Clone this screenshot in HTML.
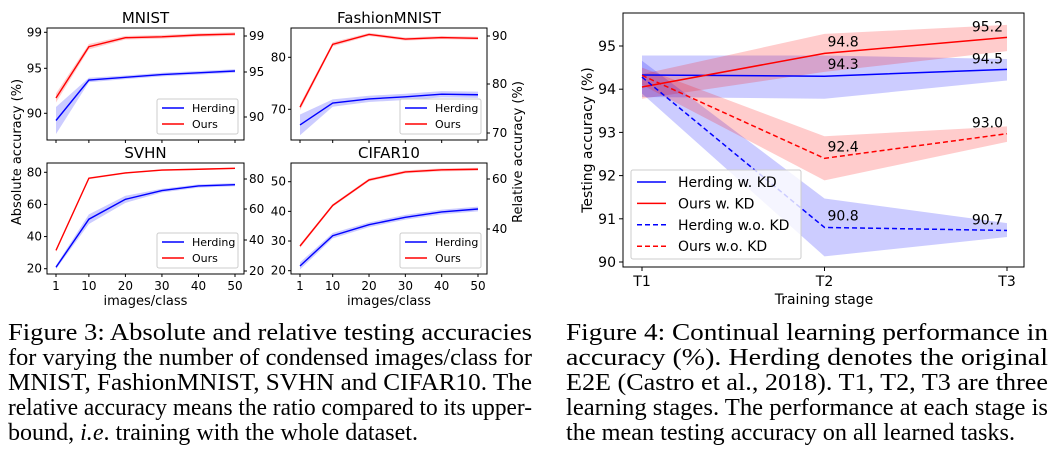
<!DOCTYPE html>
<html><head><meta charset="utf-8">
<style>
html,body{margin:0;padding:0;background:#fff;}
svg{display:block;font-family:"DejaVu Sans","Liberation Sans",sans-serif;}
svg text.cap{font-family:"Liberation Serif",serif;font-size:24px;fill:#000;}
</style></head>
<body>
<svg id="fig" width="1057" height="462" viewBox="0 0 1057 462" xmlns="http://www.w3.org/2000/svg">
<g id="left"></g>
<g id="right"></g>
<g font-family="Liberation Serif, serif">
<text class="cap" font-family="Liberation Serif, serif" x="8" y="340" textLength="524" lengthAdjust="spacingAndGlyphs">Figure 3:  Absolute and relative testing accuracies</text>
<text class="cap" font-family="Liberation Serif, serif" x="8" y="365" textLength="524" lengthAdjust="spacingAndGlyphs">for varying the number of condensed images/class for</text>
<text class="cap" font-family="Liberation Serif, serif" x="8" y="390" textLength="524" lengthAdjust="spacingAndGlyphs">MNIST, FashionMNIST, SVHN and CIFAR10.  The</text>
<text class="cap" font-family="Liberation Serif, serif" x="8" y="415" textLength="524" lengthAdjust="spacingAndGlyphs">relative accuracy means the ratio compared to its upper-</text>
<text class="cap" font-family="Liberation Serif, serif" x="8" y="440" textLength="410" lengthAdjust="spacingAndGlyphs">bound, <tspan font-style="italic">i.e</tspan>. training with the whole dataset.</text>
</g>
<g font-family="Liberation Serif, serif">
<text class="cap" font-family="Liberation Serif, serif" x="566" y="340" textLength="482" lengthAdjust="spacingAndGlyphs">Figure 4:  Continual learning performance in</text>
<text class="cap" font-family="Liberation Serif, serif" x="566" y="365" textLength="482" lengthAdjust="spacingAndGlyphs">accuracy (%).   Herding denotes the original</text>
<text class="cap" font-family="Liberation Serif, serif" x="566" y="390" textLength="482" lengthAdjust="spacingAndGlyphs">E2E (Castro et al., 2018).  T1, T2, T3 are three</text>
<text class="cap" font-family="Liberation Serif, serif" x="566" y="415" textLength="482" lengthAdjust="spacingAndGlyphs">learning stages. The performance at each stage is</text>
<text class="cap" font-family="Liberation Serif, serif" x="566" y="440" textLength="449" lengthAdjust="spacingAndGlyphs">the mean testing accuracy on all learned tasks.</text>
</g>
</svg>
<script>
// ---- Figure 3 data ----
const imgsPerClass = [1, 10, 20, 30, 40, 50];
const xTickLabels = [1, 10, 20, 30, 40, 50];
const mnistHerding = [89.2, 93.7, 94.0, 94.3, 94.5, 94.7];
const mnistHerdingErr = [1.5, 0.25, 0.2, 0.2, 0.2, 0.2];
const mnistOurs = [91.7, 97.4, 98.4, 98.5, 98.7, 98.8];
const mnistOursErr = [0.5, 0.3, 0.2, 0.2, 0.2, 0.2];
const fashionHerding = [67.0, 71.2, 72.0, 72.4, 72.9, 72.8];
const fashionHerdingErr = [2.0, 0.7, 0.6, 0.6, 0.6, 0.6];
const fashionOurs = [70.4, 82.5, 84.4, 83.5, 83.8, 83.65];
const fashionOursErr = [0.6, 0.4, 0.3, 0.3, 0.3, 0.3];
const svhnHerding = [20.9, 50.8, 63.2, 68.6, 71.5, 72.3];
const svhnHerdingErr = [1.2, 3.0, 2.2, 1.2, 1.0, 1.0];
const svhnOurs = [31.4, 76.3, 79.6, 81.4, 81.9, 82.5];
const svhnOursErr = [1.0, 0.6, 0.5, 0.5, 0.5, 0.5];
const cifarHerding = [21.6, 31.8, 35.5, 38.0, 39.8, 40.8];
const cifarHerdingErr = [1.2, 0.9, 0.8, 0.8, 0.8, 0.8];
const cifarOurs = [28.3, 42.0, 50.6, 53.3, 54.0, 54.2];
const cifarOursErr = [0.6, 0.5, 0.5, 0.5, 0.5, 0.5];
const mnistLeftTicks = [90, 95, 99];
const fashionLeftTicks = [70, 80];
const svhnLeftTicks = [20, 40, 60, 80];
const cifarLeftTicks = [20, 30, 40, 50];
const mnistRightTicks = ['90', '95', '99'];
const fashionRightTicks = ['70', '80', '90'];
const svhnRightTicks = ['20', '40', '60', '80'];
const cifarRightTicks = ['40', '60'];

// ---- Figure 4 data ----
const stages = ['T1', 'T2', 'T3'];
const herdKD = [94.33, 94.3, 94.46];
const herdKDLo = [93.82, 93.78, 94.2];
const herdKDHi = [94.78, 94.78, 94.7];
const oursKD = [94.05, 94.83, 95.2];
const oursKDLo = [93.78, 94.4, 94.88];
const oursKDHi = [94.35, 95.28, 95.49];
const herdNoKD = [94.28, 90.8, 90.73];
const herdNoKDLo = [93.9, 90.13, 90.58];
const herdNoKDHi = [94.66, 91.47, 90.9];
const oursNoKD = [94.32, 92.4, 92.97];
const oursNoKDLo = [94.1, 91.89, 92.78];
const oursNoKDHi = [94.5, 92.91, 93.14];
const fig4YTicks = [90, 91, 92, 93, 94, 95];

const NS = 'http://www.w3.org/2000/svg';
function mk(parent, tag, attrs, text) {
  const e = document.createElementNS(NS, tag);
  for (const k in attrs) e.setAttribute(k, attrs[k]);
  if (text !== undefined) e.textContent = text;
  parent.appendChild(e);
  return e;
}
function lin(d0, d1, r0, r1) { return v => r0 + (v - d0) * (r1 - r0) / (d1 - d0); }

const left = document.getElementById('left');
function panel(cfg) {
  const g = mk(left, 'g', {});
  
  
  const sx = lin(1, 50, cfg.x0 + 9, cfg.x1 - 9);
  const sy = lin(cfg.d0, cfg.d1, cfg.r0, cfg.r1);
  const series = [[cfg.herd, cfg.herdErr, '#0000ff', 'herding'], [cfg.ours, cfg.oursErr, '#ff0000', 'ours']];
  series.forEach(s => {
    let up = imgsPerClass.map((x, i) => sx(x) + ',' + sy(s[0][i] + s[1][i]));
    let dn = imgsPerClass.map((x, i) => sx(x) + ',' + sy(s[0][i] - s[1][i])).reverse();
    const band = mk(g, 'polygon', {points: up.concat(dn).join(' '), fill: s[2], 'fill-opacity': 0.2});
    
    
    const line = mk(g, 'polyline', {points: imgsPerClass.map((x, i) => sx(x) + ',' + sy(s[0][i])).join(' '), fill: 'none', stroke: s[2], 'stroke-width': 1.4});
    
    
  });
  const frame = mk(g, 'rect', {x: cfg.x0, y: cfg.y0, width: cfg.x1 - cfg.x0, height: cfg.y1 - cfg.y0, fill: 'none', stroke: '#000', 'stroke-width': 1});
  
  
  const t = mk(g, 'text', {x: (cfg.x0 + cfg.x1) / 2, y: cfg.y0 - 5, 'text-anchor': 'middle', 'font-size': 15}, cfg.title);
  
  
  imgsPerClass.forEach((x, i) => {
    mk(g, 'line', {x1: sx(x), x2: sx(x), y1: cfg.y1, y2: cfg.y1 + 3, stroke: '#000'});
    if (cfg.xlabels) {
      const tl = mk(g, 'text', {x: sx(x), y: cfg.y1 + 16, 'text-anchor': 'middle', 'font-size': 12}, xTickLabels[i]);
      
      
    }
  });
  cfg.lticks.forEach(v => {
    mk(g, 'line', {x1: cfg.x0 - 3, x2: cfg.x0, y1: sy(v), y2: sy(v), stroke: '#000'});
    const tl = mk(g, 'text', {x: cfg.x0 - 5, y: sy(v) + 4, 'text-anchor': 'end', 'font-size': 12}, v);
    
    
  });
  cfg.rticks.forEach((lab, i) => {
    const y = cfg.rpos[i];
    mk(g, 'line', {x1: cfg.x1, x2: cfg.x1 + 3, y1: y, y2: y, stroke: '#000'});
    const tl = mk(g, 'text', {x: cfg.x1 + 5, y: y + 4, 'font-size': 12}, lab);
    
    
  });
  if (cfg.xlabels) {
    const xl = mk(g, 'text', {x: (cfg.x0 + cfg.x1) / 2, y: cfg.y1 + 31, 'text-anchor': 'middle', 'font-size': 13}, 'images/class');
    
    
  }
  const lg = mk(g, 'g', {});
  
  
  const lx = cfg.x1 - 87, ly = cfg.y1 - 41;
  mk(lg, 'rect', {x: lx, y: ly, width: 81, height: 35, rx: 2, fill: '#fff', 'fill-opacity': 0.8, stroke: '#ccc'});
  [['Herding', '#0000ff'], ['Ours', '#ff0000']].forEach((e, i) => {
    const y = ly + 9 + i * 16;
    mk(lg, 'line', {x1: lx + 5, x2: lx + 27, y1: y, y2: y, stroke: e[1], 'stroke-width': 1.4});
    const tx = mk(lg, 'text', {x: lx + 35, y: y + 4, 'font-size': 11}, e[0]);
    
    
  });
}
panel({name: 'mnist', title: 'MNIST', x0: 47, x1: 244, y0: 28, y1: 140, d0: 90, d1: 99, r0: 113.3, r1: 32.3,
  herd: mnistHerding, herdErr: mnistHerdingErr, ours: mnistOurs, oursErr: mnistOursErr,
  lticks: mnistLeftTicks, rticks: mnistRightTicks, rpos: [117, 72, 36], xlabels: false});
panel({name: 'fashion-mnist', title: 'FashionMNIST', x0: 291, x1: 487, y0: 28, y1: 140, d0: 70, d1: 80, r0: 109.3, r1: 57.3,
  herd: fashionHerding, herdErr: fashionHerdingErr, ours: fashionOurs, oursErr: fashionOursErr,
  lticks: fashionLeftTicks, rticks: fashionRightTicks, rpos: [133, 84, 36], xlabels: false});
panel({name: 'svhn', title: 'SVHN', x0: 47, x1: 244, y0: 163, y1: 274, d0: 20, d1: 80, r0: 268.7, r1: 172.3,
  herd: svhnHerding, herdErr: svhnHerdingErr, ours: svhnOurs, oursErr: svhnOursErr,
  lticks: svhnLeftTicks, rticks: svhnRightTicks, rpos: [271, 240, 209, 179], xlabels: true});
panel({name: 'cifar10', title: 'CIFAR10', x0: 291, x1: 487, y0: 163, y1: 274, d0: 20, d1: 50, r0: 270.7, r1: 181.7,
  herd: cifarHerding, herdErr: cifarHerdingErr, ours: cifarOurs, oursErr: cifarOursErr,
  lticks: cifarLeftTicks, rticks: cifarRightTicks, rpos: [229, 179], xlabels: true});
let yl = mk(left, 'text', {x: 0, y: 0, transform: 'translate(21,152) rotate(-90)', 'text-anchor': 'middle', 'font-size': 13}, 'Absolute accuracy (%)');


let yr = mk(left, 'text', {x: 0, y: 0, transform: 'translate(522,152) rotate(-90)', 'text-anchor': 'middle', 'font-size': 13}, 'Relative accuracy (%)');



// ---- Figure 4 ----
const right = document.getElementById('right');
const fx = lin(0, 2, 642, 1007);
const fy = lin(90, 95, 262, 46);
const fser = [
  [herdKD, herdKDLo, herdKDHi, '#0000ff', false, 'herding-w-kd'],
  [oursKD, oursKDLo, oursKDHi, '#ff0000', false, 'ours-w-kd'],
  [herdNoKD, herdNoKDLo, herdNoKDHi, '#0000ff', true, 'herding-wo-kd'],
  [oursNoKD, oursNoKDLo, oursNoKDHi, '#ff0000', true, 'ours-wo-kd']];
fser.forEach(s => {
  const up = stages.map((_, i) => fx(i) + ',' + fy(s[2][i]));
  const dn = stages.map((_, i) => fx(i) + ',' + fy(s[1][i])).reverse();
  const b = mk(right, 'polygon', {points: up.concat(dn).join(' '), fill: s[3], 'fill-opacity': 0.2});
  
  
});
fser.forEach(s => {
  const a = {points: stages.map((_, i) => fx(i) + ',' + fy(s[0][i])).join(' '), fill: 'none', stroke: s[3], 'stroke-width': 1.5};
  if (s[4]) a['stroke-dasharray'] = '5,3';
  const l = mk(right, 'polyline', a);
  
  
  const v2 = mk(right, 'text', {x: fx(1) + 3, y: fy(s[0][1]) - 7, 'font-size': 14}, s[0][1].toFixed(1));
  
  
  const v3 = mk(right, 'text', {x: fx(2) - 4, y: fy(s[0][2]) - 6, 'font-size': 14, 'text-anchor': 'end'}, s[0][2].toFixed(1));
  
  
});
const ff = mk(right, 'rect', {x: 623, y: 13, width: 401, height: 254, fill: 'none', stroke: '#000'});


fig4YTicks.forEach(v => {
  mk(right, 'line', {x1: 619, x2: 623, y1: fy(v), y2: fy(v), stroke: '#000'});
  const t = mk(right, 'text', {x: 616, y: fy(v) + 5, 'text-anchor': 'end', 'font-size': 14}, v);
  
  
});
stages.forEach((s, i) => {
  mk(right, 'line', {x1: fx(i), x2: fx(i), y1: 267, y2: 271, stroke: '#000'});
  const t = mk(right, 'text', {x: fx(i), y: 286, 'text-anchor': 'middle', 'font-size': 14}, s);
  
  
});
let fxl = mk(right, 'text', {x: 824, y: 304, 'text-anchor': 'middle', 'font-size': 14}, 'Training stage');


let fyl = mk(right, 'text', {x: 0, y: 0, transform: 'translate(592,140) rotate(-90)', 'text-anchor': 'middle', 'font-size': 14}, 'Testing accuracy (%)');


const flg = mk(right, 'g', {});


mk(flg, 'rect', {x: 631, y: 170, width: 170, height: 89, rx: 2, fill: '#fff', 'fill-opacity': 0.8, stroke: '#ccc'});
[['Herding w. KD', '#0000ff', false], ['Ours w. KD', '#ff0000', false], ['Herding w.o. KD', '#0000ff', true], ['Ours w.o. KD', '#ff0000', true]].forEach((e, i) => {
  const y = 182 + i * 21.4;
  const a = {x1: 637, x2: 666, y1: y, y2: y, stroke: e[1], 'stroke-width': 1.5};
  if (e[2]) a['stroke-dasharray'] = '5,3';
  mk(flg, 'line', a);
  const t = mk(flg, 'text', {x: 678, y: y + 5, 'font-size': 14}, e[0]);
  
  
});
</script>
</body></html>
